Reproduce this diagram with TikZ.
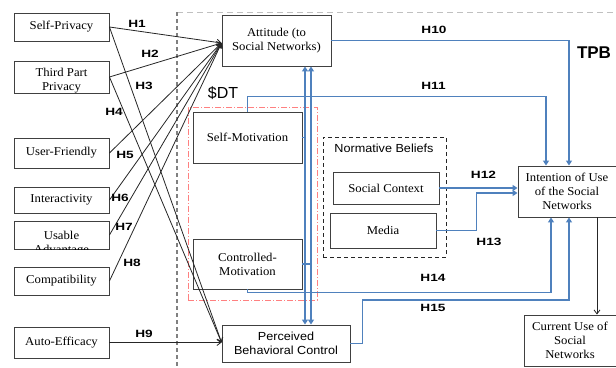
\documentclass[tikz,border=0pt]{standalone}
\usepackage{fontspec}
\setmainfont{Liberation Serif}
\newfontfamily\boxfont{Liberation Serif}[FakeStretch=1.06]
\newfontfamily\sbfont{Liberation Sans}[FakeStretch=1.08]
\newfontfamily\hfont{Liberation Sans}[FakeStretch=1.3]
\newfontfamily\bigsans{Liberation Sans}
\usetikzlibrary{arrows.meta}
\definecolor{bblue}{HTML}{4F81BD}
\definecolor{bgray}{HTML}{404040}
\definecolor{sdtred}{HTML}{FF8080}
\definecolor{dgray}{HTML}{808080}
\definecolor{lgray}{HTML}{C0C0C0}
\tikzset{
  box/.style={draw=bgray, line width=0.9pt, inner sep=0pt, align=center,
    font=\boxfont\fontsize{12}{14}\selectfont},
  sbox/.style={box, font=\sbfont\fontsize{11.7}{14}\selectfont},
  hlab/.style={inner sep=0pt, font=\hfont\bfseries\fontsize{10.5}{10.5}\selectfont},
  blk/.style={draw=black!85, line width=0.8pt, -{Straight Barb[length=4pt,width=6pt]}},
  bl/.style={draw=bblue, line width=1.8pt, -{Triangle[length=5pt,width=6pt]}},
  blboth/.style={draw=bblue, line width=1.8pt, {Triangle[length=5pt,width=6pt]}-{Triangle[length=5pt,width=6pt]}},
  blplain/.style={draw=bblue, line width=1.8pt},
  sdtframe/.style={draw=sdtred, line width=0.8pt, dash pattern=on 6pt off 2pt on 1pt off 2pt, inner sep=0pt},
  nbframe/.style={draw=black!85, line width=0.9pt, dash pattern=on 4pt off 3pt, inner sep=0pt},
}
\begin{document}
\begin{tikzpicture}[x=1pt,y=-1pt]
\useasboundingbox (0,0) rectangle (616,367);
% frame lines
\draw[lgray, line width=1pt, dash pattern=on 6pt off 4pt] (177,12) -- (616,12);
\draw[dgray, line width=1.5pt, dash pattern=on 4pt off 3pt] (177,12) -- (177,367);

% group frames
\node[sdtframe, minimum width=129pt, minimum height=193pt] (sdt) at (252.5,203.5) {};
\node[nbframe, minimum width=123pt, minimum height=120pt] (nb) at (384.5,197) {};
\node[inner sep=0pt, font=\sbfont\fontsize{11.7}{14}\selectfont] (nbl) at (384,148) {Normative Beliefs};

% left boxes
\node[box, minimum width=95pt, minimum height=28pt] (sp) at (61.5,27) {Self-Privacy};
\node[box, minimum width=95pt, minimum height=32pt] (tpp) at (61.5,77) {};
\begin{scope}
\clip (tpp.south west) rectangle (tpp.north east);
\node[box, draw=none] (tppt) at (61.5,80.5) {Third Part\\Privacy};
\end{scope}
\node[box, minimum width=95pt, minimum height=30pt] (uf) at (61.5,153) {User-Friendly};
\node[box, minimum width=95pt, minimum height=26pt] (ia) at (61.5,200) {Interactivity};
\node[box, minimum width=95pt, minimum height=28pt] (ua) at (61.5,235) {};
\begin{scope}
\clip (ua.south west) rectangle (ua.north east);
\node[box, draw=none] (uat) at (61.5,243.5) {Usable\\Advantage};
\end{scope}
\node[box, minimum width=95pt, minimum height=28pt] (comp) at (61.5,281) {Compatibility};
\node[box, minimum width=95pt, minimum height=31pt] (ae) at (61.5,342.5) {Auto-Efficacy};

% middle boxes
\node[box, minimum width=109pt, minimum height=51pt] (att) at (276.5,40.5) {Attitude (to\\Social Networks)};
\node[box, minimum width=109pt, minimum height=51pt] (smot) at (247.5,137.5) {Self-Motivation};
\node[box, minimum width=109pt, minimum height=50pt] (cmot) at (247.5,264) {Controlled-\\Motivation};
\node[sbox, minimum width=128pt, minimum height=37pt] (pbc) at (286,343.5) {Perceived\\Behavioral Control};
\node[box, minimum width=106pt, minimum height=32pt] (sc) at (386,188) {Social Context};
\node[box, minimum width=106pt, minimum height=35pt] (med) at (383,230.5) {Media};

% right boxes
\node[box, minimum width=98pt, minimum height=51pt] (int) at (567,191.5) {Intention of Use\\of the Social\\Networks};
\node[box, minimum width=92pt, minimum height=51pt] (cu) at (570,340.5) {Current Use of\\Social\\Networks};

% black connectors
\draw[blk] (sp.east) -- ([yshift=-2.5pt]att.west);
\draw[blk] (tpp.east) -- ([yshift=-2.5pt]att.west);
\draw[blk] (uf.east) -- ([yshift=-2.5pt]att.west);
\draw[blk] (ia.east) -- ([yshift=-2.5pt]att.west);
\draw[blk] (ua.east) -- ([yshift=-2.5pt]att.west);
\draw[blk] (comp.east) -- ([yshift=-2.5pt]att.west);
\draw[blk] (sp.east) -- ([yshift=1pt]pbc.west);
\draw[blk] (tpp.east) -- ([yshift=1pt]pbc.west);
\draw[blk] (ae.east) -- ([yshift=1pt]pbc.west);
\coordinate (xcu) at (597,0);
\draw[blk] (int.south -| xcu) -- (cu.north -| xcu);

% blue connectors
\coordinate (va) at (305,0);
\coordinate (vb) at (311,0);
\draw[blboth] (att.south -| va) -- (pbc.north -| va);
\draw[blboth] (att.south -| vb) -- (pbc.north -| vb);
\draw[blplain] (smot.east) -- (smot.east -| va);
\draw[blplain] (cmot.east) -- (cmot.east -| vb);
\draw[bl] (att.east) -| ([xshift=2pt]int.north);
\draw[bl] (smot.north) -- ++(0,-15) -| ([xshift=-21pt]int.north);
\draw[bl] (sc.east) -- (sc.east -| int.west);
\draw[bl] (med.east) -- ++(40,0) |- ([yshift=-1.5pt]int.west);
\draw[bl] (cmot.south) -- ++(0,3) -| ([xshift=-16pt]int.south);
\draw[bl] (pbc.east) -- ++(12,0) -- ++(0,-43.5) -| ([xshift=2pt]int.south);

% labels
\node[hlab] (h1) at (137,23.5) {H1};
\node[hlab] (h2) at (150,54) {H2};
\node[hlab] (h3) at (144,85.5) {H3};
\node[hlab] (h4) at (114,112) {H4};
\node[hlab] (h5) at (125,155) {H5};
\node[hlab] (h6) at (120,197.5) {H6};
\node[hlab] (h7) at (124,227) {H7};
\node[hlab] (h8) at (132,262.5) {H8};
\node[hlab] (h9) at (144,334) {H9};
\node[hlab] (h10) at (434,29.5) {H10};
\node[hlab] (h11) at (433.5,85.5) {H11};
\node[hlab] (h12) at (483.5,175) {H12};
\node[hlab] (h13) at (489,241.5) {H13};
\node[hlab] (h14) at (433,277.5) {H14};
\node[hlab] (h15) at (433,307.5) {H15};
\node[inner sep=0pt, font=\bigsans\bfseries\fontsize{17}{17}\selectfont] (tpb) at (594,53) {TPB};
\node[inner sep=0pt, font=\bigsans\fontsize{16}{16}\selectfont] (sdtl) at (223,93) {\$DT};
\end{tikzpicture}
\end{document}
